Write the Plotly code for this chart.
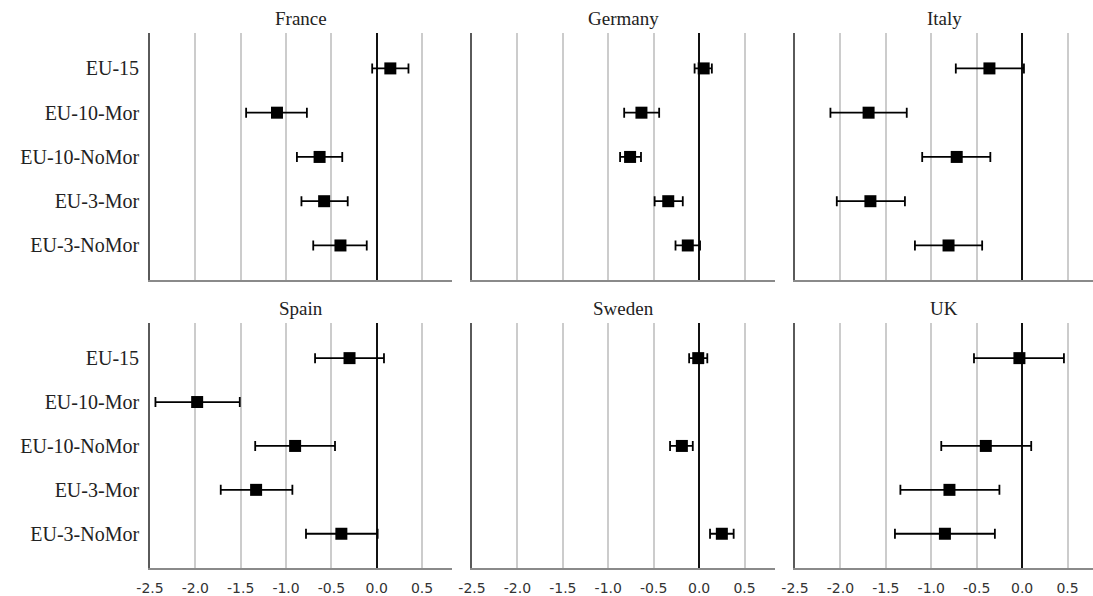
import plotly.graph_objects as go

# Groups shown on every panel (top to bottom)
groups = ["EU-15", "EU-10-Mor", "EU-10-NoMor", "EU-3-Mor", "EU-3-NoMor"]
countries = ["France", "Germany", "Italy", "Spain", "Sweden", "UK"]

# Point estimates with lower / upper confidence bounds, per country
france_est = [0.15, -1.10, -0.63, -0.58, -0.40]
france_lo = [-0.05, -1.44, -0.88, -0.83, -0.70]
france_hi = [0.35, -0.77, -0.38, -0.32, -0.11]

germany_est = [0.05, -0.635, -0.76, -0.34, -0.125]
germany_lo = [-0.05, -0.825, -0.87, -0.49, -0.26]
germany_hi = [0.14, -0.44, -0.64, -0.18, 0.01]

italy_est = [-0.36, -1.69, -0.72, -1.67, -0.81]
italy_lo = [-0.73, -2.11, -1.10, -2.04, -1.18]
italy_hi = [0.02, -1.27, -0.35, -1.29, -0.44]

spain_est = [-0.30, -1.98, -0.90, -1.33, -0.39]
spain_lo = [-0.68, -2.44, -1.34, -1.72, -0.78]
spain_hi = [0.08, -1.51, -0.46, -0.93, 0.01]

sweden_est = [-0.01, None, -0.19, None, 0.25]
sweden_lo = [-0.11, None, -0.32, None, 0.12]
sweden_hi = [0.09, None, -0.07, None, 0.38]

uk_est = [-0.03, None, -0.40, -0.80, -0.85]
uk_lo = [-0.53, None, -0.89, -1.34, -1.40]
uk_hi = [0.46, None, 0.10, -0.25, -0.30]

x_ticks = [-2.5, -2.0, -1.5, -1.0, -0.5, 0.0, 0.5]
x_tick_text = ["-2.5", "-2.0", "-1.5", "-1.0", "-0.5", "0.0", "0.5"]

series = [
    (france_est, france_lo, france_hi),
    (germany_est, germany_lo, germany_hi),
    (italy_est, italy_lo, italy_hi),
    (spain_est, spain_lo, spain_hi),
    (sweden_est, sweden_lo, sweden_hi),
    (uk_est, uk_lo, uk_hi),
]

W, H = 1093, 596
# panel pixel boxes: columns (left, right) and rows (top, bottom)
col_px = [(150, 452), (472, 775), (795, 1093)]
row_px = [(33, 280), (323, 568)]
x_right = [0.83, 0.835, 0.78]

SERIF = "Liberation Serif, Times New Roman, serif"

fig = go.Figure()
layout = {}
annotations = []

for i, (name, (est, lo, hi)) in enumerate(zip(countries, series)):
    r, c = divmod(i, 3)
    n = i + 1
    xa = "x" if n == 1 else f"x{n}"
    ya = "y" if n == 1 else f"y{n}"
    plus = [None if e is None else h - e for e, h in zip(est, hi)]
    minus = [None if e is None else e - l for e, l in zip(est, lo)]
    fig.add_trace(go.Scatter(
        x=est, y=groups, xaxis=xa, yaxis=ya, mode="markers",
        marker=dict(symbol="square", size=12, color="black"),
        error_x=dict(type="data", symmetric=False, array=plus,
                     arrayminus=minus, color="black", thickness=1.8, width=5),
        showlegend=False, cliponaxis=False,
    ))
    x0, x1 = col_px[c]
    y0, y1 = row_px[r]
    layout[f"xaxis{'' if n == 1 else n}"] = dict(
        domain=[x0 / W, x1 / W], anchor=ya, range=[-2.5, x_right[c]],
        tickvals=x_ticks, ticktext=x_tick_text, showticklabels=(r == 1),
        ticks="", showgrid=True, gridcolor="#cccccc", gridwidth=1.6,
        zeroline=True, zerolinecolor="#111111", zerolinewidth=2.2,
        showline=True, linecolor="#8a8a8a", linewidth=1.6,
        tickfont=dict(family="DejaVu Sans, sans-serif", size=14, color="#333333"),
        ticklabelstandoff=6, automargin=False, fixedrange=True,
    )
    layout[f"yaxis{'' if n == 1 else n}"] = dict(
        domain=[1 - y1 / H, 1 - y0 / H], anchor=xa, type="category",
        categoryorder="array", categoryarray=groups, range=[4.78, -0.8],
        showticklabels=(c == 0), ticks="", showgrid=False, zeroline=False,
        showline=True, linecolor="#5a5a5a", linewidth=1.8,
        tickfont=dict(family=SERIF, size=20, color="#222222"),
        ticklabelstandoff=5, automargin=False, fixedrange=True,
    )
    annotations.append(dict(
        text=name, x=(x0 + x1) / 2 / W, y=1 - (y0 - 15) / H,
        xref="paper", yref="paper", xanchor="center", yanchor="middle",
        showarrow=False, font=dict(family=SERIF, size=19, color="#222222"),
    ))

fig.update_layout(
    **layout,
    annotations=annotations,
    width=W, height=H,
    margin=dict(l=0, r=0, t=0, b=0),
    paper_bgcolor="white", plot_bgcolor="white",
)

fig.write_html("out.html", config={"displayModeBar": False})
